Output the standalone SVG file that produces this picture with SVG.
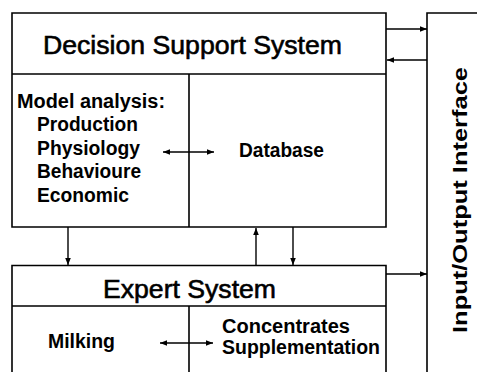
<svg xmlns="http://www.w3.org/2000/svg" width="477" height="372" viewBox="0 0 477 372">
  <defs>
    <marker id="arrow" viewBox="0 0 10 10" refX="10" refY="5" markerWidth="7" markerHeight="7" markerUnits="userSpaceOnUse" orient="auto-start-reverse">
      <path d="M0,1 L10,5 L0,9 Z" fill="#000"/>
    </marker>
    <style>
      .box { fill: none; stroke: #000; stroke-width: 1.6; }
      .conn { fill: none; stroke: #000; stroke-width: 1.4; }
      .title { font-family: "Liberation Sans", Arial, sans-serif; font-size: 26px; fill: #000; stroke: #000; stroke-width: 0.6; }
      .lbl { font-family: "Liberation Sans", Arial, sans-serif; font-size: 19.5px; font-weight: bold; fill: #000; }
      .io { font-family: "Liberation Sans", Arial, sans-serif; font-size: 20px; font-weight: bold; fill: #000; }
    </style>
  </defs>
  <rect width="477" height="372" fill="#fff"/>

  <!-- Decision Support System -->
  <g id="dss">
    <path class="box" d="M12,13 H386 V227 H12 Z M12,74 H386 M189,74 V227"/>
    <text class="title" x="43" y="54" textLength="299" lengthAdjust="spacingAndGlyphs">Decision Support System</text>
  </g>

  <g id="model-analysis">
    <text class="lbl" x="17" y="108" textLength="148" lengthAdjust="spacingAndGlyphs">Model analysis:</text>
    <text class="lbl" x="37" y="131" textLength="101" lengthAdjust="spacingAndGlyphs">Production</text>
    <text class="lbl" x="37" y="155" textLength="103" lengthAdjust="spacingAndGlyphs">Physiology</text>
    <text class="lbl" x="37" y="178" textLength="104" lengthAdjust="spacingAndGlyphs">Behavioure</text>
    <text class="lbl" x="37" y="202" textLength="92" lengthAdjust="spacingAndGlyphs">Economic</text>
  </g>

  <g id="database">
    <text class="lbl" x="239" y="157" textLength="85" lengthAdjust="spacingAndGlyphs">Database</text>
  </g>

  <!-- Expert System -->
  <g id="expert">
    <path class="box" d="M12,372 V265.5 H386 V372 M12,306 H386 M189,306 V372"/>
    <text class="title" x="103" y="298" textLength="173" lengthAdjust="spacingAndGlyphs">Expert System</text>
  </g>

  <g id="milking">
    <text class="lbl" x="48" y="348" textLength="67" lengthAdjust="spacingAndGlyphs">Milking</text>
  </g>

  <g id="concentrates">
    <text class="lbl" x="222" y="333" textLength="128" lengthAdjust="spacingAndGlyphs">Concentrates</text>
    <text class="lbl" x="222" y="354" textLength="158" lengthAdjust="spacingAndGlyphs">Supplementation</text>
  </g>

  <!-- Input/Output Interface -->
  <g id="io">
    <path class="box" d="M427,372 V13 H477"/>
    <text class="io" transform="translate(467,333) rotate(-90)" x="0" y="0" textLength="266" lengthAdjust="spacingAndGlyphs">Input/Output Interface</text>
  </g>

  <!-- Connectors -->
  <g id="connectors">
    <line class="conn" x1="386" y1="29" x2="427" y2="29" marker-end="url(#arrow)"/>
    <line class="conn" x1="427" y1="60" x2="387" y2="60" marker-end="url(#arrow)"/>
    <line class="conn" x1="386" y1="274" x2="427" y2="274" marker-end="url(#arrow)"/>
    <line class="conn" x1="68" y1="227" x2="68" y2="265" marker-end="url(#arrow)"/>
    <line class="conn" x1="256" y1="265" x2="256" y2="228" marker-end="url(#arrow)"/>
    <line class="conn" x1="293" y1="227" x2="293" y2="265" marker-end="url(#arrow)"/>
    <line class="conn" x1="163" y1="152" x2="214" y2="152" marker-start="url(#arrow)" marker-end="url(#arrow)"/>
    <line class="conn" x1="160" y1="343" x2="213" y2="343" marker-start="url(#arrow)" marker-end="url(#arrow)"/>
  </g>
</svg>
